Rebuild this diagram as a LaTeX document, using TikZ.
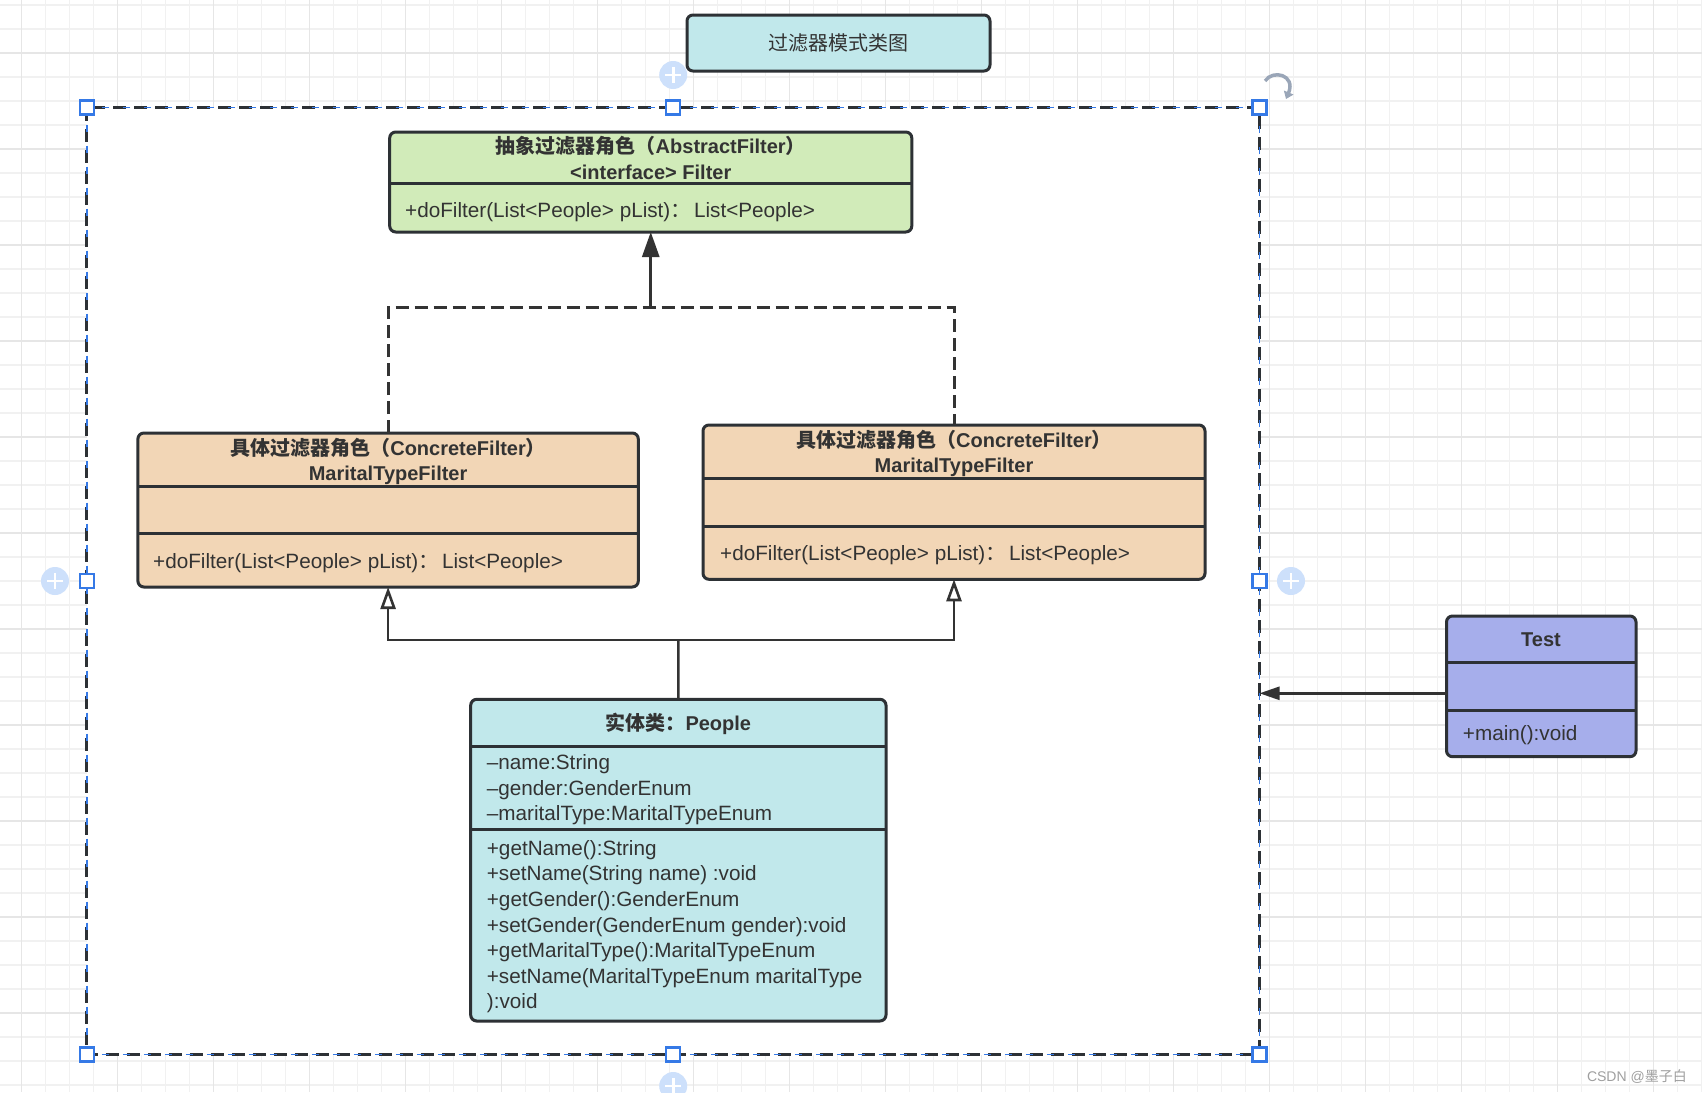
\documentclass[tikz,border=0pt]{standalone}
\usepackage{fontspec}
\setmainfont{Liberation Sans}
\newfontfamily\cjk{Noto Sans CJK SC}
\usetikzlibrary{arrows.meta}
\definecolor{bordc}{HTML}{2D3135}
\definecolor{txtc}{HTML}{333333}
\definecolor{cgreen}{HTML}{D1EBB9}
\definecolor{cpeach}{HTML}{F2D6B6}
\definecolor{ccyan}{HTML}{C1E8EB}
\definecolor{clav}{HTML}{A6AEEB}
\definecolor{gminor}{HTML}{F1F1F1}
\definecolor{gmajor}{HTML}{E6E6E6}
\definecolor{selblue}{HTML}{3579E6}
\definecolor{plusblue}{HTML}{CDE0FB}
\definecolor{rotc}{HTML}{9AA6B8}
\newcommand\regfs{\fontsize{20.7}{25.6}\selectfont}
\newcommand\boldfs{\fontsize{20}{25}\selectfont\bfseries}
\newcommand\fwcolon{{\cjk ：}\hspace{3pt}}
\tikzset{
  umlbox/.style={draw=bordc, line width=3pt, rounded corners=6pt, anchor=north west, inner sep=0pt, outer sep=0pt},
  divl/.style={draw=bordc, line width=3pt},
  rtxt/.style={inner sep=0pt, text=txtc, font=\regfs},
  btxt/.style={inner sep=0pt, text=txtc, font=\boldfs},
  conn/.style={draw=txtc, line width=2.6pt},
  dconn/.style={draw=txtc, line width=3pt, dash pattern=on 13pt off 6pt},
  handle/.style={draw=selblue, fill=white, line width=2.4pt, minimum size=14pt, inner sep=0pt},
  plusc/.style={fill=plusblue, draw=none, circle, minimum size=28pt, inner sep=0pt},
}
\begin{document}
\begin{tikzpicture}[x=1pt,y=-1pt]
\useasboundingbox (0,0) rectangle (1702,1092);
\fill[white] (0,0) rectangle (1702,1092);
% grid
\foreach \i in {0,...,70} { \draw[gminor, line width=1.3pt] ({21.5+24*\i},0) -- ({21.5+24*\i},1092); }
\foreach \i in {0,...,45} { \draw[gminor, line width=1.3pt] (0,{5+24*\i}) -- (1702,{5+24*\i}); }
\foreach \i in {0,...,17} { \draw[gmajor, line width=1.6pt] ({21.5+96*\i},0) -- ({21.5+96*\i},1092); }
\foreach \i in {0,...,11} { \draw[gmajor, line width=1.6pt] (0,{53+96*\i}) -- (1702,{53+96*\i}); }

% frame (group)
\node[fill=white, draw=none, anchor=north west, minimum width=1172.7pt, minimum height=947pt, inner sep=0pt, outer sep=0pt] (frame) at (86.8,107.5) {};
\draw[bordc, line width=3pt, dash pattern=on 13pt off 8pt] (frame.north west) rectangle (frame.south east);
\draw[selblue, line width=1.6pt, dash pattern=on 7pt off 14pt, dash phase=4pt] (frame.north west) rectangle (frame.south east);

% title
\node[umlbox, fill=ccyan, minimum width=303pt, minimum height=56pt] (title) at (687,15) {};
\node[rtxt, anchor=base, font=\fontsize{20}{25}\selectfont\cjk] (titletxt) at (838.5,50) {过滤器模式类图};

% abstract filter
\node[umlbox, fill=cgreen, minimum width=522.1pt, minimum height=100pt] (abs) at (389.7,132) {};
\draw[divl] (abs.west |- 0,183.5) -- (abs.east |- 0,183.5);
\node[btxt, anchor=base] (absh1) at (650.75,153) {{\cjk 抽象过滤器角色（}AbstractFilter{\cjk ）}};
\node[btxt, anchor=base] (absh2) at (650.75,179) {<interface> Filter};
\node[rtxt, anchor=base west] (absm) at (405,217) {+doFilter(List<People> pList)\fwcolon List<People>};

% left concrete filter
\node[umlbox, fill=cpeach, minimum width=500.4pt, minimum height=154pt] (cl) at (137.9,433) {};
\draw[divl] (cl.west |- 0,486) -- (cl.east |- 0,486);
\draw[divl] (cl.west |- 0,533.6) -- (cl.east |- 0,533.6);
\node[btxt, anchor=base] (clh1) at (388.1,455.6) {{\cjk 具体过滤器角色（}ConcreteFilter{\cjk ）}};
\node[btxt, anchor=base] (clh2) at (388.1,480) {MaritalTypeFilter};
\node[rtxt, anchor=base west] (clm) at (153,568) {+doFilter(List<People> pList)\fwcolon List<People>};

% right concrete filter
\node[umlbox, fill=cpeach, minimum width=502pt, minimum height=154.3pt] (cr) at (703,425) {};
\draw[divl] (cr.west |- 0,478.3) -- (cr.east |- 0,478.3);
\draw[divl] (cr.west |- 0,526) -- (cr.east |- 0,526);
\node[btxt, anchor=base] (crh1) at (954,447.7) {{\cjk 具体过滤器角色（}ConcreteFilter{\cjk ）}};
\node[btxt, anchor=base] (crh2) at (954,472) {MaritalTypeFilter};
\node[rtxt, anchor=base west] (crm) at (720,560.3) {+doFilter(List<People> pList)\fwcolon List<People>};

% People
\node[umlbox, fill=ccyan, minimum width=415.3pt, minimum height=321.7pt] (ppl) at (470.7,699.3) {};
\draw[divl] (ppl.west |- 0,746.7) -- (ppl.east |- 0,746.7);
\draw[divl] (ppl.west |- 0,829.3) -- (ppl.east |- 0,829.3);
\node[btxt, anchor=base] (pplh) at (678.3,730.3) {{\cjk 实体类：}People};
\foreach \t [count=\i from 0] in {–name:String, –gender:GenderEnum, –maritalType:MaritalTypeEnum}
  \node[rtxt, anchor=base west] (pa\i) at (486.7,{769.7+25.6*\i}) {\t};
\foreach \t [count=\i from 0] in {+getName():String, +setName(String name) :void, +getGender():GenderEnum, +setGender(GenderEnum gender):void, +getMaritalType():MaritalTypeEnum, +setName(MaritalTypeEnum maritalType, ):void}
  \node[rtxt, anchor=base west] (pm\i) at (486.7,{855.3+25.6*\i}) {\t};

% Test
\node[umlbox, fill=clav, minimum width=189.5pt, minimum height=140.7pt] (test) at (1446.5,616) {};
\draw[divl] (test.west |- 0,662.7) -- (test.east |- 0,662.7);
\draw[divl] (test.west |- 0,710.7) -- (test.east |- 0,710.7);
\node[btxt, anchor=base] (testh) at (1541,646) {Test};
\node[rtxt, anchor=base west] (testm) at (1462.7,740.3) {+main():void};

% connectors
\coordinate (jn) at (650.75,307.5);
\draw[dconn] (cl.north) |- (jn) -| (cr.north);
\draw[conn, -{Triangle[length=25pt,width=17pt]}] (jn) -- (abs.south);
\coordinate (jp) at (678.3,639.8);
\draw[conn, -{Triangle[length=22pt,width=15pt,fill=white]}] (jp) -| (cl.south);
\draw[conn, -{Triangle[length=22pt,width=15pt,fill=white]}] (jp) -| (cr.south);
\draw[conn] (ppl.north) -- (jp);
\coordinate (ts) at (1446.5,693.3);
\draw[conn, -{Triangle[length=20pt,width=13pt]}] (ts) -- (ts -| frame.east);

% selection handles
\foreach \hx/\hy [count=\i] in {86.8/107.5, 673.2/107.5, 1259.5/107.5, 86.8/581, 1259.5/581, 86.8/1054.5, 673.2/1054.5, 1259.5/1054.5}
  \node[handle] (h\i) at (\hx,\hy) {};
\foreach \px/\py [count=\i] in {673.2/75, 55/581, 1291/581, 673.2/1086}{
  \node[plusc] (p\i) at (\px,\py) {};
  \draw[white, line width=2.6pt] ([xshift=-8pt]p\i.center) -- ([xshift=8pt]p\i.center);
  \draw[white, line width=2.6pt] ([yshift=-8pt]p\i.center) -- ([yshift=8pt]p\i.center);
}
% rotate icon
\coordinate (rot) at (1265,81);
\draw[rotc, line width=3.5pt, -{Triangle[length=7pt,width=10pt]}] (rot) .. controls (1273,69) and (1296,75) .. (1286,99);

% watermark
\node[inner sep=0pt, anchor=base east, text=gray!75, font=\fontsize{14}{16}\selectfont] (wm) at (1687,1081) {CSDN @{\cjk 墨子白}};
\end{tikzpicture}
\end{document}
